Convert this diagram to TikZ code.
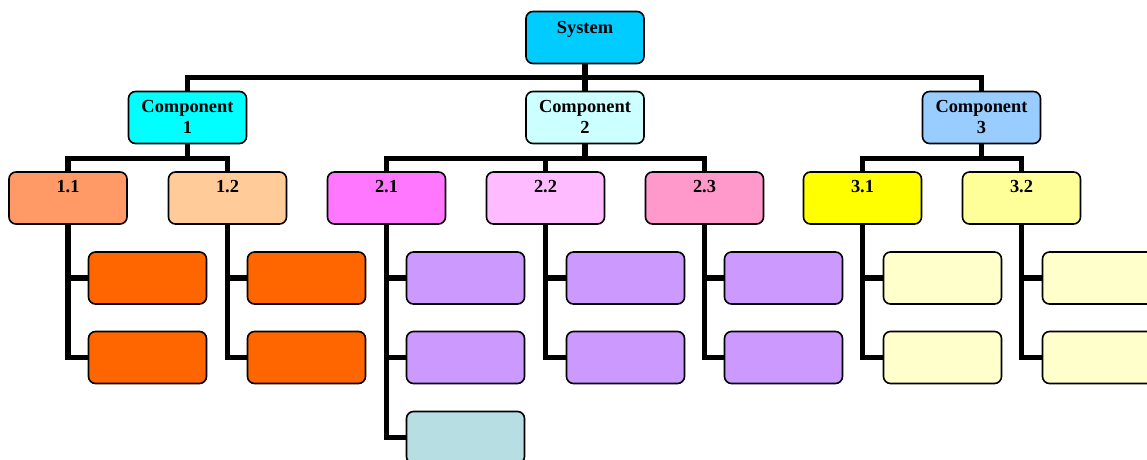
\documentclass[tikz,border=0pt]{standalone}
\usepackage{fontspec}
\setmainfont{Liberation Serif}
\definecolor{csys}{HTML}{00CCFF}
\definecolor{cone}{HTML}{00FFFF}
\definecolor{ctwo}{HTML}{CCFFFF}
\definecolor{cthree}{HTML}{99CCFF}
\definecolor{caa}{HTML}{FF9966}
\definecolor{cab}{HTML}{FFCC99}
\definecolor{cal}{HTML}{FF6600}
\definecolor{cba}{HTML}{FF77FF}
\definecolor{cbb}{HTML}{FFBBFF}
\definecolor{cbc}{HTML}{FF99CC}
\definecolor{cbl}{HTML}{CC99FF}
\definecolor{cbt}{HTML}{B7DFE3}
\definecolor{cca}{HTML}{FFFF00}
\definecolor{ccb}{HTML}{FFFF99}
\definecolor{ccl}{HTML}{FFFFCC}
\begin{document}
\begin{tikzpicture}[x=1pt,y=-1pt,
  box/.style={draw=black, line width=1.6pt, rounded corners=7pt,
    minimum width=118pt, minimum height=52pt, inner sep=0pt},
  txt/.style={anchor=north, inner sep=0pt, align=center,
    font=\bfseries\fontsize{18.4}{21}\selectfont},
  bus/.style={draw=black, line width=5.5pt}]
\useasboundingbox (0,0) rectangle (1147,459);
\begin{scope}
\clip (0,0) rectangle (1147,459);
% top
\node[box, fill=csys, label={[txt,yshift=-10pt]north:System}] (sys) at (585,37.5) {};
\node[box, fill=cone, label={[txt,yshift=-9.5pt]north:Component\\1}] (c1) at (187.5,117.5) {};
\node[box, fill=ctwo, label={[txt,yshift=-9.5pt]north:Component\\2}] (c2) at (585,117.5) {};
\node[box, fill=cthree, label={[txt,yshift=-9.5pt]north:Component\\3}] (c3) at (981.5,117.5) {};
% level 3
\node[box, fill=caa, label={[txt,yshift=-8.5pt]north:1.1}] (n11) at (68,198) {};
\node[box, fill=cab, label={[txt,yshift=-8.5pt]north:1.2}] (n12) at (227.5,198) {};
\node[box, fill=cba, label={[txt,yshift=-8.5pt]north:2.1}] (n21) at (386.5,198) {};
\node[box, fill=cbb, label={[txt,yshift=-8.5pt]north:2.2}] (n22) at (545.5,198) {};
\node[box, fill=cbc, label={[txt,yshift=-8.5pt]north:2.3}] (n23) at (704.5,198) {};
\node[box, fill=cca, label={[txt,yshift=-8.5pt]north:3.1}] (n31) at (862.5,198) {};
\node[box, fill=ccb, label={[txt,yshift=-8.5pt]north:3.2}] (n32) at (1021.5,198) {};
% leaves
\node[box, fill=cal] (l111) at (147.5,278) {};
\node[box, fill=cal] (l112) at (147.5,357.5) {};
\node[box, fill=cal] (l121) at (306.5,278) {};
\node[box, fill=cal] (l122) at (306.5,357.5) {};
\node[box, fill=cbl] (l211) at (465.5,278) {};
\node[box, fill=cbl] (l212) at (465.5,357.5) {};
\node[box, fill=cbt] (l213) at (465.5,437.5) {};
\node[box, fill=cbl] (l221) at (625.5,278) {};
\node[box, fill=cbl] (l222) at (625.5,357.5) {};
\node[box, fill=cbl] (l231) at (783.5,278) {};
\node[box, fill=cbl] (l232) at (783.5,357.5) {};
\node[box, fill=ccl] (l311) at (942.5,278) {};
\node[box, fill=ccl] (l312) at (942.5,357.5) {};
\node[box, fill=ccl] (l321) at (1101.5,278) {};
\node[box, fill=ccl] (l322) at (1101.5,357.5) {};
% connectors
\foreach \c in {c1,c2,c3} \draw[bus] (sys.south) -- ++(0,13) -| (\c.north);
\foreach \c in {n11,n12} \draw[bus] (c1.south) -- ++(0,14) -| (\c.north);
\foreach \c in {n21,n22,n23} \draw[bus] (c2.south) -- ++(0,14) -| (\c.north);
\foreach \c in {n31,n32} \draw[bus] (c3.south) -- ++(0,14) -| (\c.north);
\foreach \p/\l in {n11/l111,n11/l112,n12/l121,n12/l122,n21/l211,n21/l212,n21/l213,n22/l221,n22/l222,n23/l231,n23/l232,n31/l311,n31/l312,n32/l321,n32/l322}
  \draw[bus] (\p.south) |- (\l.west);
\end{scope}
\end{tikzpicture}
\end{document}
